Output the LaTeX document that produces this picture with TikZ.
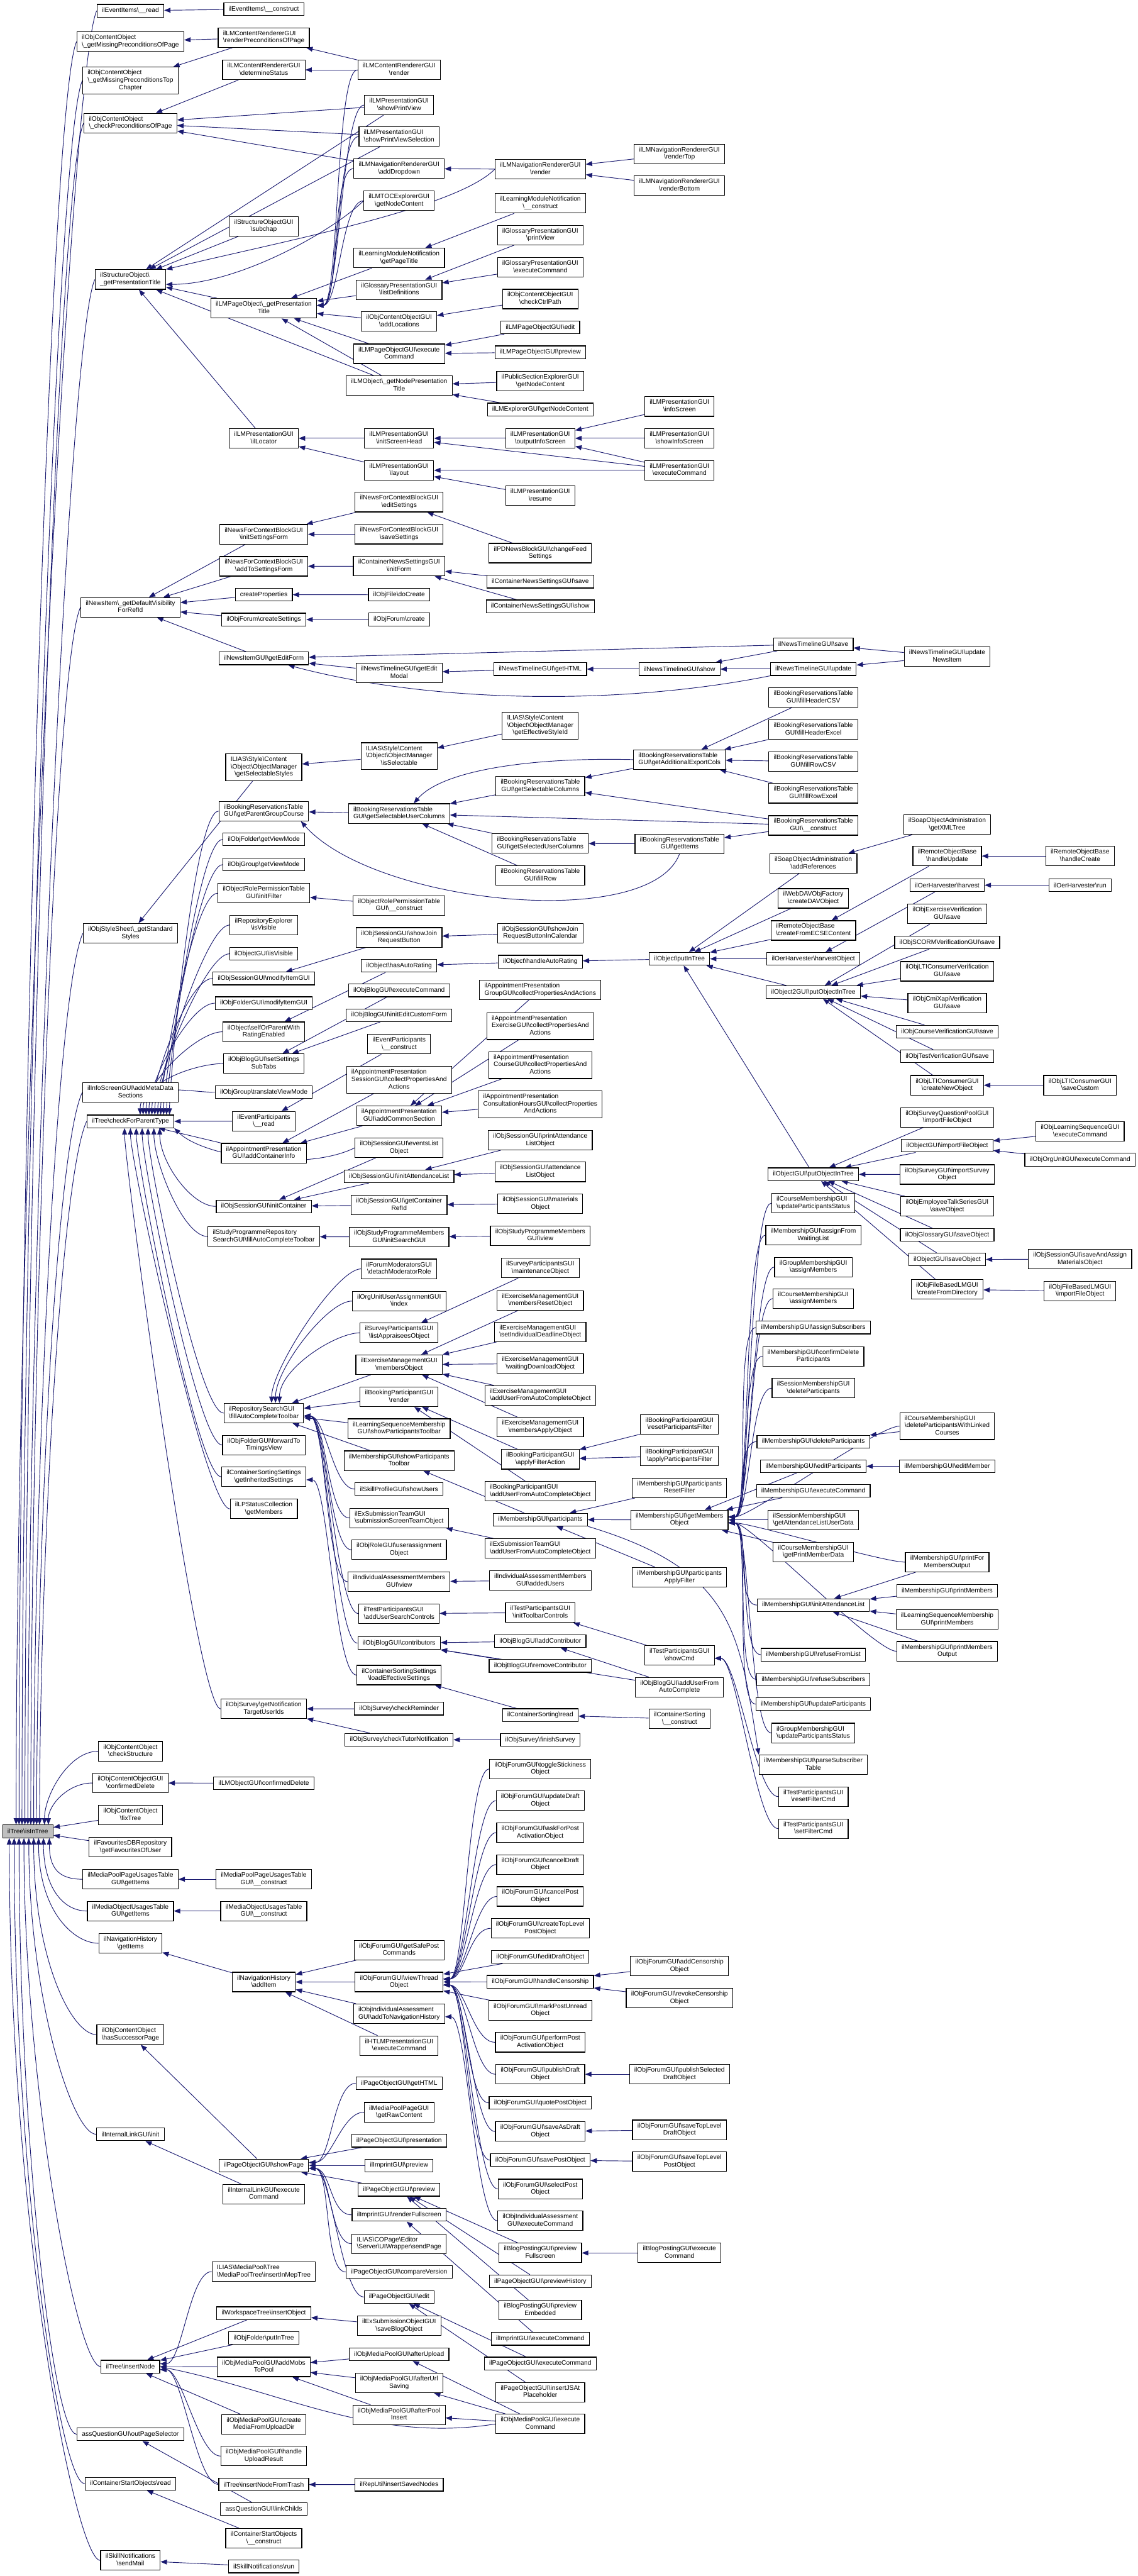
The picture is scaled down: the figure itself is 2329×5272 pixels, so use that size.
\documentclass[tikz,border=0pt]{standalone}
\usepackage{fontspec}
\setmainfont{Liberation Sans}
\usetikzlibrary{arrows.meta}
\definecolor{edgeblue}{HTML}{191970}
\definecolor{rootgray}{HTML}{BFBFBF}
\newcommand\bsl{\textbackslash}
\newcommand\twol[2]{\begin{tabular}{@{}l@{}}#1\\\multicolumn{1}{@{}c@{}}{#2}\end{tabular}}
\newcommand\threel[3]{\begin{tabular}{@{}l@{}}#1\\#2\\\multicolumn{1}{@{}c@{}}{#3}\end{tabular}}
\newcommand\NN[4]{\node[box] (#1) at (#2,#3) {#4};}
\newcommand\EE[2]{\draw[edg] (#1) -- (#2);}
\newcommand\EA[2]{\draw[edg] (#1.west) .. controls +(-45,0) and +(45,0) .. ([yshift=3pt]#2.east);}
\newcommand\EB[2]{\draw[edg] (#1.west) .. controls +(-45,0) and +(45,0) .. ([yshift=-3pt]#2.east);}
\newcommand\CT[3]{\draw[edg] (#1.west) .. controls +(-50,0) and +(0,-70) .. ([xshift=#3pt]#2.north);}
\newcommand\CD[3]{\draw[edg] (#1.west) .. controls +(-50,0) and +(0,70) .. ([xshift=#3pt]#2.south);}
\newcommand\UPE[3]{\draw[edg] (#1.west) .. controls +(-55,120) and +(0,-#3) .. ([xshift=#2pt]isin.north);}
\newcommand\DNE[3]{\draw[edg] (#1.west) .. controls +(-50,0) and +(0,#3) .. ([xshift=#2pt]isin.south);}
\pgfdeclarelayer{bg}
\pgfsetlayers{bg,main}
\begin{document}
\begin{tikzpicture}[x=0.5pt,y=-0.5pt,
 box/.style={draw=black,line width=0.75pt,fill=white,inner xsep=5pt,inner ysep=2.5pt,minimum height=13pt,font=\fontsize{6.6}{7.5}\selectfont},
 edg/.style={draw=edgeblue,line width=0.6pt,-{Triangle[length=6.5pt,width=5pt]}}]
\useasboundingbox (0,0) rectangle (2329,5272);
% ---------- column 0
\node[box,fill=rootgray] (isin) at (57,3748) {ilTree\bsl isInTree};
% ---------- column 1
\NN{a1}{267}{22}{ilEventItems\bsl\_\_read}
\NN{a2}{267}{85}{\twol{ilObjContentObject}{\bsl\_getMissingPreconditionsOfPage}}
\NN{a3}{267}{165}{\threel{ilObjContentObject}{\bsl\_getMissingPreconditionsTop}{Chapter}}
\NN{a4}{267}{252}{\twol{ilObjContentObject}{\bsl\_checkPreconditionsOfPage}}
\NN{a5}{267}{572}{\twol{ilStructureObject\bsl}{\_getPresentationTitle}}
\NN{a6}{267}{1243}{\twol{ilNewsItem\bsl\_getDefaultVisibility}{ForRefId}}
\NN{a7}{267}{1910}{\twol{ilObjStyleSheet\bsl\_getStandard}{Styles}}
\NN{a8}{267}{2236}{\twol{ilInfoScreenGUI\bsl addMetaData}{Sections}}
\NN{a9}{267}{2295}{ilTree\bsl checkForParentType}
\NN{a10}{267}{3584}{\twol{ilObjContentObject}{\bsl checkStructure}}
\NN{a11}{267}{3649}{\twol{ilObjContentObjectGUI}{\bsl confirmedDelete}}
\NN{a12}{267}{3715}{\twol{ilObjContentObject}{\bsl fixTree}}
\NN{a13}{267}{3780}{\twol{ilFavouritesDBRepository}{\bsl getFavouritesOfUser}}
\NN{a14}{267}{3846}{\twol{ilMediaPoolPageUsagesTable}{GUI\bsl getItems}}
\NN{a15}{267}{3911}{\twol{ilMediaObjectUsagesTable}{GUI\bsl getItems}}
\NN{a16}{267}{3977}{\twol{ilNavigationHistory}{\bsl getItems}}
\NN{a17}{267}{4164}{\twol{ilObjContentObject}{\bsl hasSuccessorPage}}
\NN{a18}{267}{4368}{ilInternalLinkGUI\bsl init}
\NN{a19}{267}{4843.5}{ilTree\bsl insertNode}
\NN{a20}{267}{4982}{assQuestionGUI\bsl outPageSelector}
\NN{a21}{267}{5083}{ilContainerStartObjects\bsl read}
\NN{a22}{267}{5240}{\twol{ilSkillNotifications}{\bsl sendMail}}
% ---------- column 2
\NN{b1}{540}{18.5}{ilEventItems\bsl\_\_construct}
\NN{b2}{540}{77}{\twol{ilLMContentRendererGUI}{\bsl renderPreconditionsOfPage}}
\NN{b3}{540}{143}{\twol{ilLMContentRendererGUI}{\bsl determineStatus}}
\NN{b4}{540}{463}{\twol{ilStructureObjectGUI}{\bsl subchap}}
\NN{b5}{540}{631}{\twol{ilLMPageObject\bsl\_getPresentation}{Title}}
\NN{b6}{540}{897}{\twol{ilLMPresentationGUI}{\bsl ilLocator}}
\NN{b7}{540}{1093.5}{\twol{ilNewsForContextBlockGUI}{\bsl initSettingsForm}}
\NN{b8}{540}{1159}{\twol{ilNewsForContextBlockGUI}{\bsl addToSettingsForm}}
\NN{b9}{540}{1217}{createProperties}
\NN{b10}{540}{1268}{ilObjForum\bsl createSettings}
\NN{b11}{540}{1347.5}{ilNewsItemGUI\bsl getEditForm}
\NN{b12}{540}{1570}{\threel{ILIAS\bsl Style\bsl Content}{\bsl Object\bsl ObjectManager}{\bsl getSelectableStyles}}
\NN{b13}{540}{1660}{\twol{ilBookingReservationsTable}{GUI\bsl getParentGroupCourse}}
\NN{b14}{540}{1718}{ilObjFolder\bsl getViewMode}
\NN{b15}{540}{1769.5}{ilObjGroup\bsl getViewMode}
\NN{b16}{540}{1828}{\twol{ilObjectRolePermissionTable}{GUI\bsl initFilter}}
\NN{b17}{540}{1893}{\twol{ilRepositoryExplorer}{\bsl isVisible}}
\NN{b18}{540}{1952}{ilObjectGUI\bsl isVisible}
\NN{b19}{540}{2002.5}{ilObjSessionGUI\bsl modifyItemGUI}
\NN{b20}{540}{2053}{ilObjFolderGUI\bsl modifyItemGUI}
\NN{b21}{540}{2111.6}{\twol{ilObject\bsl selfOrParentWith}{RatingEnabled}}
\NN{b22}{540}{2176.7}{\twol{ilObjBlogGUI\bsl setSettings}{SubTabs}}
\NN{b23}{540}{2235.4}{ilObjGroup\bsl translateViewMode}
\NN{b24}{540}{2294.6}{\twol{ilEventParticipants}{\bsl\_\_read}}
\NN{b25}{540}{2360}{\twol{ilAppointmentPresentation}{GUI\bsl addContainerInfo}}
\NN{b26}{540}{2469}{ilObjSessionGUI\bsl initContainer}
\NN{b27}{540}{2530.6}{\twol{ilStudyProgrammeRepository}{SearchGUI\bsl fillAutoCompleteToolbar}}
\NN{b28}{540}{2892}{\twol{ilRepositorySearchGUI}{\bsl fillAutoCompleteToolbar}}
\NN{b29}{540}{2957.4}{\twol{ilObjFolderGUI\bsl forwardTo}{TimingsView}}
\NN{b30}{540}{3022.5}{\twol{ilContainerSortingSettings}{\bsl getInheritedSettings}}
\NN{b31}{540}{3088}{\twol{ilLPStatusCollection}{\bsl getMembers}}
\NN{b32}{540}{3497.3}{\twol{ilObjSurvey\bsl getNotification}{TargetUserIds}}
\NN{b33}{540}{3649.4}{ilLMObjectGUI\bsl confirmedDelete}
\NN{b34}{540}{3846}{\twol{ilMediaPoolPageUsagesTable}{GUI\bsl\_\_construct}}
\NN{b35}{540}{3911}{\twol{ilMediaObjectUsagesTable}{GUI\bsl\_\_construct}}
\NN{b36}{540}{4056.3}{\twol{ilNavigationHistory}{\bsl addItem}}
\NN{b37}{540}{4431.7}{ilPageObjectGUI\bsl showPage}
\NN{b38}{540}{4490.4}{\twol{ilInternalLinkGUI\bsl execute}{Command}}
\NN{b39}{540}{4649}{\twol{ILIAS\bsl MediaPool\bsl Tree}{\bsl MediaPoolTree\bsl insertInMepTree}}
\NN{b40}{540}{4734}{ilWorkspaceTree\bsl insertObject}
\NN{b41}{540}{4785}{ilObjFolder\bsl putInTree}
\NN{b42}{540}{4844}{\twol{ilObjMediaPoolGUI\bsl addMobs}{ToPool}}
\NN{b43}{540}{4961.4}{\twol{ilObjMediaPoolGUI\bsl create}{MediaFromUploadDir}}
\NN{b44}{540}{5026.5}{\twol{ilObjMediaPoolGUI\bsl handle}{UploadResult}}
\NN{b45}{540}{5084.6}{ilTree\bsl insertNodeFromTrash}
\NN{b46}{540}{5135}{assQuestionGUI\bsl linkChilds}
\NN{b47}{540}{5194.7}{\twol{ilContainerStartObjects}{\bsl\_\_construct}}
\NN{b48}{540}{5252.5}{ilSkillNotifications\bsl run}
% ---------- column 3
\NN{c1}{817}{143}{\twol{ilLMContentRendererGUI}{\bsl render}}
\NN{c2}{817}{215}{\twol{ilLMPresentationGUI}{\bsl showPrintView}}
\NN{c3}{817}{279.5}{\twol{ilLMPresentationGUI}{\bsl showPrintViewSelection}}
\NN{c4}{817}{345}{\twol{ilLMNavigationRendererGUI}{\bsl addDropdown}}
\NN{c5}{817}{411}{\twol{ilLMTOCExplorerGUI}{\bsl getNodeContent}}
\NN{c6}{817}{528}{\twol{ilLearningModuleNotification}{\bsl getPageTitle}}
\NN{c7}{817}{593}{\twol{ilGlossaryPresentationGUI}{\bsl listDefinitions}}
\NN{c8}{817}{658}{\twol{ilObjContentObjectGUI}{\bsl addLocations}}
\NN{c9}{817}{724}{\twol{ilLMPageObjectGUI\bsl execute}{Command}}
\NN{c10}{817}{789}{\twol{ilLMObject\bsl\_getNodePresentation}{Title}}
\NN{c11}{817}{897}{\twol{ilLMPresentationGUI}{\bsl initScreenHead}}
\NN{c12}{817}{962.5}{\twol{ilLMPresentationGUI}{\bsl layout}}
\NN{c13}{817}{1027.6}{\twol{ilNewsForContextBlockGUI}{\bsl editSettings}}
\NN{c14}{817}{1093.3}{\twol{ilNewsForContextBlockGUI}{\bsl saveSettings}}
\NN{c15}{817}{1158.7}{\twol{ilContainerNewsSettingsGUI}{\bsl initForm}}
\NN{c16}{817}{1217.3}{ilObjFile\bsl doCreate}
\NN{c17}{817}{1267.8}{ilObjForum\bsl create}
\NN{c18}{817}{1377}{\twol{ilNewsTimelineGUI\bsl getEdit}{Modal}}
\NN{c19}{817}{1547.6}{\threel{ILIAS\bsl Style\bsl Content}{\bsl Object\bsl ObjectManager}{\bsl isSelectable}}
\NN{c20}{817}{1665}{\twol{ilBookingReservationsTable}{GUI\bsl getSelectableUserColumns}}
\NN{c21}{817}{1853}{\twol{ilObjectRolePermissionTable}{GUI\bsl\_\_construct}}
\NN{c22}{817}{1918.5}{\twol{ilObjSessionGUI\bsl showJoin}{RequestButton}}
\NN{c23}{817}{1976.6}{ilObject\bsl hasAutoRating}
\NN{c24}{817}{2027.1}{ilObjBlogGUI\bsl executeCommand}
\NN{c25}{817}{2077.7}{ilObjBlogGUI\bsl initEditCustomForm}
\NN{c26}{817}{2136.9}{\twol{ilEventParticipants}{\bsl\_\_construct}}
\NN{c27}{817}{2210}{\threel{ilAppointmentPresentation}{SessionGUI\bsl collectPropertiesAnd}{Actions}}
\NN{c28}{817}{2283.6}{\twol{ilAppointmentPresentation}{GUI\bsl addCommonSection}}
\NN{c29}{817}{2349}{\twol{ilObjSessionGUI\bsl eventsList}{Object}}
\NN{c30}{817}{2407.4}{ilObjSessionGUI\bsl initAttendanceList}
\NN{c31}{817}{2466}{\twol{ilObjSessionGUI\bsl getContainer}{RefId}}
\NN{c32}{817}{2531.7}{\twol{ilObjStudyProgrammeMembers}{GUI\bsl initSearchGUI}}
\NN{c33}{817}{2596.8}{\twol{ilForumModeratorsGUI}{\bsl detachModeratorRole}}
\NN{c34}{817}{2662.7}{\twol{ilOrgUnitUserAssignmentGUI}{\bsl index}}
\NN{c35}{817}{2727.8}{\twol{ilSurveyParticipantsGUI}{\bsl listAppraiseesObject}}
\NN{c36}{817}{2792.9}{\twol{ilExerciseManagementGUI}{\bsl membersObject}}
\NN{c37}{817}{2858.6}{\twol{ilBookingParticipantGUI}{\bsl render}}
\NN{c38}{817}{2923.7}{\twol{ilLearningSequenceMembership}{GUI\bsl showParticipantsToolbar}}
\NN{c39}{817}{2989.4}{\twol{ilMembershipGUI\bsl showParticipants}{Toolbar}}
\NN{c40}{817}{3047.5}{ilSkillProfileGUI\bsl showUsers}
\NN{c41}{817}{3106.7}{\twol{ilExSubmissionTeamGUI}{\bsl submissionScreenTeamObject}}
\NN{c42}{817}{3171.8}{\twol{ilObjRoleGUI\bsl userassignment}{Object}}
\NN{c43}{817}{3237.2}{\twol{ilIndividualAssessmentMembers}{GUI\bsl view}}
\NN{c44}{817}{3302.5}{\twol{ilTestParticipantsGUI}{\bsl addUserSearchControls}}
\NN{c45}{817}{3362.9}{ilObjBlogGUI\bsl contributors}
\NN{c46}{817}{3428.2}{\twol{ilContainerSortingSettings}{\bsl loadEffectiveSettings}}
\NN{c47}{817}{3497}{ilObjSurvey\bsl checkReminder}
\NN{c48}{817}{3560.4}{ilObjSurvey\bsl checkTutorNotification}
\NN{c49}{817}{3990.9}{\twol{ilObjForumGUI\bsl getSafePost}{Commands}}
\NN{c50}{817}{4056.3}{\twol{ilObjForumGUI\bsl viewThread}{Object}}
\NN{c51}{817}{4121.4}{\twol{ilObjIndividualAssessment}{GUI\bsl addToNavigationHistory}}
\NN{c52}{817}{4186.7}{\twol{ilHTLMPresentationGUI}{\bsl executeCommand}}
\NN{c53}{817}{4263.6}{ilPageObjectGUI\bsl getHTML}
\NN{c54}{817}{4322.8}{\twol{ilMediaPoolPageGUI}{\bsl getRawContent}}
\NN{c55}{817}{4381.2}{ilPageObjectGUI\bsl presentation}
\NN{c56}{817}{4431.7}{ilImprintGUI\bsl preview}
\NN{c57}{817}{4481.5}{ilPageObjectGUI\bsl preview}
\NN{c58}{817}{4532.9}{ilImprintGUI\bsl renderFullscreen}
\NN{c59}{817}{4591.9}{\twol{ILIAS\bsl COPage\bsl Editor}{\bsl Server\bsl UIWrapper\bsl sendPage}}
\NN{c60}{817}{4649.7}{ilPageObjectGUI\bsl compareVersion}
\NN{c61}{817}{4700.9}{ilPageObjectGUI\bsl edit}
\NN{c62}{817}{4759.8}{\twol{ilExSubmissionObjectGUI}{\bsl saveBlogObject}}
\NN{c63}{817}{4818.2}{ilObjMediaPoolGUI\bsl afterUpload}
\NN{c64}{817}{4876.9}{\twol{ilObjMediaPoolGUI\bsl afterUrl}{Saving}}
\NN{c65}{817}{4942.2}{\twol{ilObjMediaPoolGUI\bsl afterPool}{Insert}}
\NN{c66}{817}{5085.1}{ilRepUtil\bsl insertSavedNodes}
% ---------- column 4
\NN{d1}{1106}{346.5}{\twol{ilLMNavigationRendererGUI}{\bsl render}}
\NN{d2}{1106}{416}{\twol{ilLearningModuleNotification}{\bsl\_\_construct}}
\NN{d3}{1106}{481}{\twol{ilGlossaryPresentationGUI}{\bsl printView}}
\NN{d4}{1106}{547}{\twol{ilGlossaryPresentationGUI}{\bsl executeCommand}}
\NN{d5}{1106}{612}{\twol{ilObjContentObjectGUI}{\bsl checkCtrlPath}}
\NN{d6}{1106}{670}{ilLMPageObjectGUI\bsl edit}
\NN{d7}{1106}{721}{ilLMPageObjectGUI\bsl preview}
\NN{d8}{1106}{780}{\twol{ilPublicSectionExplorerGUI}{\bsl getNodeContent}}
\NN{d9}{1106}{838}{ilLMExplorerGUI\bsl getNodeContent}
\NN{d10}{1106}{897}{\twol{ilLMPresentationGUI}{\bsl outputInfoScreen}}
\NN{d11}{1106}{1014.7}{\twol{ilLMPresentationGUI}{\bsl resume}}
\NN{d12}{1106}{1132}{\twol{ilPDNewsBlockGUI\bsl changeFeed}{Settings}}
\NN{d13}{1106}{1190.4}{ilContainerNewsSettingsGUI\bsl save}
\NN{d14}{1106}{1240.9}{ilContainerNewsSettingsGUI\bsl show}
\NN{d15}{1106}{1369.4}{ilNewsTimelineGUI\bsl getHTML}
\NN{d16}{1106}{1485.3}{\threel{ILIAS\bsl Style\bsl Content}{\bsl Object\bsl ObjectManager}{\bsl getEffectiveStyleId}}
\NN{d17}{1106}{1608.8}{\twol{ilBookingReservationsTable}{GUI\bsl getSelectableColumns}}
\NN{d18}{1106}{1726}{\twol{ilBookingReservationsTable}{GUI\bsl getSelectedUserColumns}}
\NN{d19}{1106}{1792}{\twol{ilBookingReservationsTable}{GUI\bsl fillRow}}
\NN{d20}{1106}{1909.6}{\twol{ilObjSessionGUI\bsl showJoin}{RequestButtonInCalendar}}
\NN{d21}{1106}{1968.2}{ilObject\bsl handleAutoRating}
\NN{d22}{1106}{2025.7}{\twol{ilAppointmentPresentation}{GroupGUI\bsl collectPropertiesAndActions}}
\NN{d23}{1106}{2100.1}{\threel{ilAppointmentPresentation}{ExerciseGUI\bsl collectPropertiesAnd}{Actions}}
\NN{d24}{1106}{2179.8}{\threel{ilAppointmentPresentation}{CourseGUI\bsl collectPropertiesAnd}{Actions}}
\NN{d25}{1106}{2259.8}{\threel{ilAppointmentPresentation}{ConsultationHoursGUI\bsl collectProperties}{AndActions}}
\NN{d26}{1106}{2333.3}{\twol{ilObjSessionGUI\bsl printAttendance}{ListObject}}
\NN{d27}{1106}{2398.4}{\twol{ilObjSessionGUI\bsl attendance}{ListObject}}
\NN{d28}{1106}{2463.8}{\twol{ilObjSessionGUI\bsl materials}{Object}}
\NN{d29}{1106}{2528.9}{\twol{ilObjStudyProgrammeMembers}{GUI\bsl view}}
\NN{d30}{1106}{2595.1}{\twol{ilSurveyParticipantsGUI}{\bsl maintenanceObject}}
\NN{d31}{1106}{2661.3}{\twol{ilExerciseManagementGUI}{\bsl membersResetObject}}
\NN{d32}{1106}{2725.6}{\twol{ilExerciseManagementGUI}{\bsl setIndividualDeadlineObject}}
\NN{d33}{1106}{2790.7}{\twol{ilExerciseManagementGUI}{\bsl waitingDownloadObject}}
\NN{d34}{1106}{2855.8}{\twol{ilExerciseManagementGUI}{\bsl addUserFromAutoCompleteObject}}
\NN{d35}{1106}{2920.9}{\twol{ilExerciseManagementGUI}{\bsl membersApplyObject}}
\NN{d36}{1106}{2986.6}{\twol{ilBookingParticipantGUI}{\bsl applyFilterAction}}
\NN{d37}{1106}{3051.7}{\twol{ilBookingParticipantGUI}{\bsl addUserFromAutoCompleteObject}}
\NN{d38}{1106}{3110}{ilMembershipGUI\bsl participants}
\NN{d39}{1106}{3169}{\twol{ilExSubmissionTeamGUI}{\bsl addUserFromAutoCompleteObject}}
\NN{d40}{1106}{3234.6}{\twol{ilIndividualAssessmentMembers}{GUI\bsl addedUsers}}
\NN{d41}{1106}{3300.3}{\twol{ilTestParticipantsGUI}{\bsl initToolbarControls}}
\NN{d42}{1106}{3358.9}{ilObjBlogGUI\bsl addContributor}
\NN{d43}{1106}{3409.4}{ilObjBlogGUI\bsl removeContributor}
\NN{d44}{1106}{3510}{ilContainerSorting\bsl read}
\NN{d45}{1106}{3560.7}{ilObjSurvey\bsl finishSurvey}
\NN{d46}{1106}{3620.2}{\twol{ilObjForumGUI\bsl toggleStickiness}{Object}}
\NN{d47}{1106}{3685.3}{\twol{ilObjForumGUI\bsl updateDraft}{Object}}
\NN{d48}{1106}{3750.4}{\twol{ilObjForumGUI\bsl askForPost}{ActivationObject}}
\NN{d49}{1106}{3815.8}{\twol{ilObjForumGUI\bsl cancelDraft}{Object}}
\NN{d50}{1106}{3881.2}{\twol{ilObjForumGUI\bsl cancelPost}{Object}}
\NN{d51}{1106}{3946.5}{\twol{ilObjForumGUI\bsl createTopLevel}{PostObject}}
\NN{d52}{1106}{4004.9}{ilObjForumGUI\bsl editDraftObject}
\NN{d53}{1106}{4055.7}{ilObjForumGUI\bsl handleCensorship}
\NN{d54}{1106}{4114.3}{\twol{ilObjForumGUI\bsl markPostUnread}{Object}}
\NN{d55}{1106}{4179.7}{\twol{ilObjForumGUI\bsl performPost}{ActivationObject}}
\NN{d56}{1106}{4245.1}{\twol{ilObjForumGUI\bsl publishDraft}{Object}}
\NN{d57}{1106}{4303.7}{ilObjForumGUI\bsl quotePostObject}
\NN{d58}{1106}{4362.4}{\twol{ilObjForumGUI\bsl saveAsDraft}{Object}}
\NN{d59}{1106}{4420.9}{ilObjForumGUI\bsl savePostObject}
\NN{d60}{1106}{4479.8}{\twol{ilObjForumGUI\bsl selectPost}{Object}}
\NN{d61}{1106}{4545.1}{\twol{ilObjIndividualAssessment}{GUI\bsl executeCommand}}
\NN{d62}{1106}{4610.8}{\twol{ilBlogPostingGUI\bsl preview}{Fullscreen}}
\NN{d63}{1106}{4668.9}{ilPageObjectGUI\bsl previewHistory}
\NN{d64}{1106}{4727.8}{\twol{ilBlogPostingGUI\bsl preview}{Embedded}}
\NN{d65}{1106}{4786.5}{ilImprintGUI\bsl executeCommand}
\NN{d66}{1106}{4837.1}{ilPageObjectGUI\bsl executeCommand}
\NN{d67}{1106}{4895.8}{\twol{ilPageObjectGUI\bsl insertJSAt}{Placeholder}}
\NN{d68}{1106}{4960.8}{\twol{ilObjMediaPoolGUI\bsl execute}{Command}}
% ---------- column 5
\NN{e1}{1391}{315}{\twol{ilLMNavigationRendererGUI}{\bsl renderTop}}
\NN{e2}{1391}{380}{\twol{ilLMNavigationRendererGUI}{\bsl renderBottom}}
\NN{e3}{1391}{832}{\twol{ilLMPresentationGUI}{\bsl infoScreen}}
\NN{e4}{1391}{897}{\twol{ilLMPresentationGUI}{\bsl showInfoScreen}}
\NN{e5}{1391}{962.5}{\twol{ilLMPresentationGUI}{\bsl executeCommand}}
\NN{e6}{1391}{1369.4}{ilNewsTimelineGUI\bsl show}
\NN{e7}{1391}{1554.6}{\twol{ilBookingReservationsTable}{GUI\bsl getAdditionalExportCols}}
\NN{e8}{1391}{1726.9}{\twol{ilBookingReservationsTable}{GUI\bsl getItems}}
\NN{e9}{1391}{1962.3}{ilObject\bsl putInTree}
\NN{e11}{1391}{2915}{\twol{ilBookingParticipantGUI}{\bsl resetParticipantsFilter}}
\NN{e12}{1391}{2979.8}{\twol{ilBookingParticipantGUI}{\bsl applyParticipantsFilter}}
\NN{e13}{1391}{3045}{\twol{ilMembershipGUI\bsl participants}{ResetFilter}}
\NN{e14}{1391}{3110.6}{\twol{ilMembershipGUI\bsl getMembers}{Object}}
\NN{e15}{1391}{3227.9}{\twol{ilMembershipGUI\bsl participants}{ApplyFilter}}
\NN{e16}{1391}{3387.8}{\twol{ilTestParticipantsGUI}{\bsl showCmd}}
\NN{e17}{1391}{3452.9}{\twol{ilObjBlogGUI\bsl addUserFrom}{AutoComplete}}
\NN{e18}{1391}{3518}{\twol{ilContainerSorting}{\bsl\_\_construct}}
\NN{e19}{1391}{4023.7}{\twol{ilObjForumGUI\bsl addCensorship}{Object}}
\NN{e20}{1391}{4089.1}{\twol{ilObjForumGUI\bsl revokeCensorship}{Object}}
\NN{e21}{1391}{4245.1}{\twol{ilObjForumGUI\bsl publishSelected}{DraftObject}}
\NN{e22}{1391}{4358.8}{\twol{ilObjForumGUI\bsl saveTopLevel}{DraftObject}}
\NN{e23}{1391}{4423.6}{\twol{ilObjForumGUI\bsl saveTopLevel}{PostObject}}
\NN{e24}{1391}{4610.8}{\twol{ilBlogPostingGUI\bsl execute}{Command}}
% ---------- column 6
\NN{f1}{1665}{1318.3}{ilNewsTimelineGUI\bsl save}
\NN{f2}{1665}{1369.4}{ilNewsTimelineGUI\bsl update}
\NN{f3}{1665}{1427.8}{\twol{ilBookingReservationsTable}{GUI\bsl fillHeaderCSV}}
\NN{f4}{1665}{1492.9}{\twol{ilBookingReservationsTable}{GUI\bsl fillHeaderExcel}}
\NN{f5}{1665}{1558.5}{\twol{ilBookingReservationsTable}{GUI\bsl fillRowCSV}}
\NN{f6}{1665}{1623.6}{\twol{ilBookingReservationsTable}{GUI\bsl fillRowExcel}}
\NN{f7}{1665}{1689.3}{\twol{ilBookingReservationsTable}{GUI\bsl\_\_construct}}
\NN{f8}{1665}{1767}{\twol{ilSoapObjectAdministration}{\bsl addReferences}}
\NN{f9}{1665}{1838.6}{\twol{ilWebDAVObjFactory}{\bsl createDAVObject}}
\NN{f10}{1665}{1904.2}{\twol{ilRemoteObjectBase}{\bsl createFromECSEContent}}
\NN{f11}{1665}{1962.3}{ilOerHarvester\bsl harvestObject}
\NN{f12}{1665}{2030.5}{ilObject2GUI\bsl putObjectInTree}
\NN{opot}{1665}{2403.2}{ilObjectGUI\bsl putObjectInTree}
\NN{f13}{1665}{2462.4}{\twol{ilCourseMembershipGUI}{\bsl updateParticipantsStatus}}
\NN{f14}{1665}{2527.8}{\twol{ilMembershipGUI\bsl assignFrom}{WaitingList}}
\NN{f15}{1665}{2593.1}{\twol{ilGroupMembershipGUI}{\bsl assignMembers}}
\NN{f16}{1665}{2657.6}{\twol{ilCourseMembershipGUI}{\bsl assignMembers}}
\NN{f17}{1665}{2716.9}{ilMembershipGUI\bsl assignSubscribers}
\NN{f18}{1665}{2775.8}{\twol{ilMembershipGUI\bsl confirmDelete}{Participants}}
\NN{f19}{1665}{2840.9}{\twol{ilSessionMembershipGUI}{\bsl deleteParticipants}}
\NN{f20}{1665}{2950.4}{ilMembershipGUI\bsl deleteParticipants}
\NN{f21}{1665}{3000.9}{ilMembershipGUI\bsl editParticipants}
\NN{f22}{1665}{3051.4}{ilMembershipGUI\bsl executeCommand}
\NN{f23}{1665}{3110.6}{\twol{ilSessionMembershipGUI}{\bsl getAttendanceListUserData}}
\NN{f24}{1665}{3176.3}{\twol{ilCourseMembershipGUI}{\bsl getPrintMemberData}}
\NN{f25}{1665}{3284.9}{ilMembershipGUI\bsl initAttendanceList}
\NN{f26}{1665}{3386.4}{ilMembershipGUI\bsl refuseFromList}
\NN{f27}{1665}{3437}{ilMembershipGUI\bsl refuseSubscribers}
\NN{f28}{1665}{3487.5}{ilMembershipGUI\bsl updateParticipants}
\NN{f29}{1665}{3546.7}{\twol{ilGroupMembershipGUI}{\bsl updateParticipantsStatus}}
\NN{f30}{1665}{3611.8}{\twol{ilMembershipGUI\bsl parseSubscriber}{Table}}
\NN{f31}{1665}{3676.9}{\twol{ilTestParticipantsGUI}{\bsl resetFilterCmd}}
\NN{f32}{1665}{3742.5}{\twol{ilTestParticipantsGUI}{\bsl setFilterCmd}}
% ---------- column 7
\NN{g1}{1939}{1343.6}{\twol{ilNewsTimelineGUI\bsl update}{NewsItem}}
\NN{g2}{1939}{1687.6}{\twol{ilSoapObjectAdministration}{\bsl getXMLTree}}
\NN{g3}{1939}{1752}{\twol{ilRemoteObjectBase}{\bsl handleUpdate}}
\NN{g4}{1939}{1811.6}{ilOerHarvester\bsl harvest}
\NN{g5}{1939}{1870.6}{\twol{ilObjExerciseVerification}{GUI\bsl save}}
\NN{g6}{1939}{1928.9}{ilObjSCORMVerificationGUI\bsl save}
\NN{g7}{1939}{1987.9}{\twol{ilObjLTIConsumerVerification}{GUI\bsl save}}
\NN{g8}{1939}{2053}{\twol{ilObjCmiXapiVerification}{GUI\bsl save}}
\NN{g9}{1939}{2111.3}{ilObjCourseVerificationGUI\bsl save}
\NN{g10}{1939}{2161.8}{ilObjTestVerificationGUI\bsl save}
\NN{g11}{1939}{2221}{\twol{ilObjLTIConsumerGUI}{\bsl createNewObject}}
\NN{g12}{1939}{2286.7}{\twol{ilObjSurveyQuestionPoolGUI}{\bsl importFileObject}}
\NN{g13}{1939}{2344.8}{ilObjectGUI\bsl importFileObject}
\NN{g14}{1939}{2403.7}{\twol{ilObjSurveyGUI\bsl importSurvey}{Object}}
\NN{g15}{1939}{2468.8}{\twol{ilObjEmployeeTalkSeriesGUI}{\bsl saveObject}}
\NN{g16}{1939}{2527.2}{ilObjGlossaryGUI\bsl saveObject}
\NN{g17}{1939}{2577.7}{ilObjectGUI\bsl saveObject}
\NN{g18}{1939}{2639}{\twol{ilObjFileBasedLMGUI}{\bsl createFromDirectory}}
\NN{g19}{1939}{2918.7}{\threel{ilCourseMembershipGUI}{\bsl deleteParticipantsWithLinked}{Courses}}
\NN{g20}{1939}{3000.9}{ilMembershipGUI\bsl editMember}
\NN{g21}{1939}{3197}{\twol{ilMembershipGUI\bsl printFor}{MembersOutput}}
\NN{g22}{1939}{3255.7}{ilMembershipGUI\bsl printMembers}
\NN{g23}{1939}{3314.3}{\twol{ilLearningSequenceMembership}{GUI\bsl printMembers}}
\NN{g24}{1939}{3379.4}{\twol{ilMembershipGUI\bsl printMembers}{Output}}
% ---------- column 8
\NN{h1}{2211}{1752}{\twol{ilRemoteObjectBase}{\bsl handleCreate}}
\NN{h2}{2211}{1811.6}{ilOerHarvester\bsl run}
\NN{h3}{2211}{2221}{\twol{ilObjLTIConsumerGUI}{\bsl saveCustom}}
\NN{h4}{2211}{2315.9}{\twol{ilObjLearningSequenceGUI}{\bsl executeCommand}}
\NN{h5}{2211}{2373.4}{ilObjOrgUnitGUI\bsl executeCommand}
\NN{h6}{2211}{2576.9}{\twol{ilObjSessionGUI\bsl saveAndAssign}{MaterialsObject}}
\NN{h7}{2211}{2642}{\twol{ilObjFileBasedLMGUI}{\bsl importFileObject}}
% ================= edges
\begin{pgfonlayer}{bg}
\fill[white] (0,0) rectangle (2329,5272);
% to isInTree
\UPE{a1}{-12}{1400}
\UPE{a2}{-9}{1400}
\UPE{a3}{-6}{1350}
\UPE{a4}{-3}{1300}
\UPE{a5}{0}{1200}
\UPE{a6}{3}{900}
\UPE{a7}{6}{700}
\UPE{a8}{9}{550}
\UPE{a9}{12}{500}
\draw[edg] (a10.west) .. controls +(-60,0) and +(0,-60) .. ([xshift=17pt]isin.north);
\draw[edg] (a11.west) .. controls +(-50,0) and +(0,-40) .. ([xshift=21pt]isin.north);
\EE{a12}{isin}
\EE{a13}{isin}
\DNE{a14}{22}{60}
\DNE{a15}{16}{100}
\DNE{a16}{11}{150}
\DNE{a17}{6}{250}
\DNE{a18}{1}{320}
\DNE{a19}{-4}{500}
\DNE{a20}{-9}{600}
\DNE{a21}{-14}{700}
\DNE{a22}{-19}{800}
% top block
\EE{b1}{a1}
\EE{b2}{a2} \EE{b2}{a3}
\EE{c1}{b2} \EE{c1}{b3}
\EE{b3}{a4}
\EE{c2}{a4} \EE{c3}{a4} \EE{c4}{a4}
\EE{c2}{a5} \EE{c3}{a5} \EE{b4}{a5} \EE{b5}{a5} \EE{c10}{a5} \EE{b6}{a5}
\draw[edg] (d1.west) .. controls +(-80,80) and +(250,-60) .. (a5.north east);
\draw[edg] (c5.west) .. controls +(-60,60) and +(150,0) .. ([yshift=-5pt]a5.east);
\EA{c1}{b5} \EA{c2}{b5} \EA{c3}{b5} \EA{c4}{b5} \EA{c5}{b5}
\EE{c6}{b5} \EE{c7}{b5} \EE{c8}{b5} \EE{c9}{b5} \EE{c10}{b5}
\EE{d1}{c4}
\EE{e1}{d1} \EE{e2}{d1}
\EE{d2}{c6}
\EE{d3}{c7} \EE{d4}{c7}
\EE{d5}{c8}
\EE{d6}{c9} \EE{d7}{c9}
\EE{d8}{c10} \EE{d9}{c10}
\EE{c11}{b6} \EE{c12}{b6}
\EE{d10}{c11}
\EE{e4}{d10} \EE{e3}{d10} \EE{e5}{d10}
\EE{e5}{c11} \EE{e5}{c12}
\EE{d11}{c12}
\EE{c13}{b7} \EE{c14}{b7}
\EE{d12}{c13}
\EE{c15}{b8}
\EE{d13}{c15} \EE{d14}{c15}
\EE{c16}{b9}
\EE{c17}{b10}
\EE{b7}{a6} \EE{b8}{a6} \EE{b9}{a6} \EE{b10}{a6} \EE{b11}{a6}
\EE{c18}{b11} \EE{f1}{b11}
\draw[edg] (f2.south west) .. controls +(-300,60) and +(300,80) .. ([xshift=25pt]b11.south);
\EE{d15}{c18}
\EE{e6}{d15}
\EE{f1}{e6} \EE{f2}{e6}
\EE{g1}{f1} \EE{g1}{f2}
\EE{c19}{b12} \EE{d16}{c19}
\EE{b12}{a7}
\EE{c20}{b13}
\EE{d17}{c20} \EE{d18}{c20} \EE{d19}{c20}
\draw[edg] (e7.west) .. controls +(-200,-5) and +(60,-70) .. ([xshift=15pt]c20.north);
\EE{e7}{d17} \EE{f7}{d17} \EE{f7}{c20} \EE{f7}{e8} \EE{e8}{d18}
\draw[edg] (e8.south) .. controls +(-60,160) and +(150,170) .. ([xshift=38pt]b13.south);
\EE{f3}{e7} \EE{f4}{e7} \EE{f5}{e7} \EE{f6}{e7}
% to checkForParentType
\CT{b13}{a9}{40} \CT{b14}{a9}{37} \CT{b15}{a9}{34} \CT{b16}{a9}{31} \CT{b17}{a9}{28}
\CT{b18}{a9}{25} \CT{b19}{a9}{22} \CT{b20}{a9}{19} \CT{b21}{a9}{16} \CT{b22}{a9}{13} \CT{b23}{a9}{10}
\EE{b24}{a9} \EE{b25}{a9}
\CD{b26}{a9}{30} \CD{b27}{a9}{24} \CD{b28}{a9}{18} \CD{b29}{a9}{12} \CD{b30}{a9}{6} \CD{b31}{a9}{0} \CD{b32}{a9}{-6}
\draw[edg] (c29.west) .. controls +(-100,50) and +(60,60) .. (a9.south east);
\EE{c21}{b16}
\EE{c22}{b19} \EE{d20}{c22}
\EE{c23}{b21} \EE{d21}{c23} \EE{e9}{d21}
\EE{c24}{b22} \EE{c25}{b22}
\EE{c26}{b24}
\EE{c27}{b25} \EE{c28}{b25}
\EE{d22}{c28} \EE{d23}{c28} \EE{d24}{c28} \EE{d25}{c28}
\EE{c29}{b26} \EE{c30}{b26} \EE{c31}{b26}
\EE{d26}{c30} \EE{d27}{c30}
\EE{d28}{c31}
\EE{c32}{b27} \EE{d29}{c32}
% putInTree
\EE{f8}{e9} \EE{f9}{e9} \EE{f10}{e9} \EE{f11}{e9} \EE{f12}{e9} \EE{opot}{e9}
\EE{g2}{f8}
\EE{g3}{f10} \EE{h1}{g3}
\EE{g4}{f11} \EE{h2}{g4}
\EE{g5}{f12} \EE{g6}{f12} \EE{g7}{f12} \EE{g8}{f12} \EE{g9}{f12} \EE{g10}{f12} \EE{g11}{f12}
\EE{h3}{g11}
\EE{g12}{opot} \EE{g13}{opot} \EE{g14}{opot} \EE{g15}{opot} \EE{g16}{opot} \EE{g17}{opot} \EE{g18}{opot}
\EE{h4}{g13} \EE{h5}{g13}
\EE{h6}{g17}
\EE{h7}{g18}
% fillAutoCompleteToolbar
\CT{c33}{b28}{8} \CT{c34}{b28}{12} \CT{c35}{b28}{16}
\EE{c36}{b28} \EE{c37}{b28} \EE{c38}{b28} \EE{c39}{b28}
\EB{c40}{b28} \EB{c41}{b28} \EB{c42}{b28} \EB{c43}{b28} \EB{c44}{b28} \EB{c45}{b28}
\EE{d30}{c35}
\EE{d31}{c36} \EE{d32}{c36} \EE{d33}{c36} \EE{d34}{c36} \EE{d35}{c36}
\EE{d36}{c37} \EE{d37}{c37}
\EE{e11}{d36} \EE{e12}{d36}
\EE{d38}{c39}
\EE{e13}{d38} \EE{e14}{d38} \EE{e15}{d38}
\draw[edg] (d38.south east) .. controls +(300,90) and +(-40,-250) .. (f30.north west);
% getMembersObject
\EA{f13}{e14} \EA{f14}{e14} \EA{f15}{e14} \EA{f16}{e14} \EA{f17}{e14} \EA{f18}{e14} \EA{f19}{e14} \EA{f20}{e14}
\EE{f21}{e14} \EE{f22}{e14} \EE{f23}{e14} \EE{f24}{e14}
\EB{f25}{e14} \EB{f26}{e14} \EB{f27}{e14} \EB{f28}{e14} \EB{f29}{e14}
\EE{g19}{f20} \EA{g19}{e14}
\EE{g20}{f21}
\EE{g21}{f25} \EB{g21}{e14}
\EE{g22}{f25} \EE{g23}{f25} \EE{g24}{f25} \EB{g24}{e14}
\EE{e16}{d41} \EE{d41}{c44}
\EB{f31}{e16} \EB{f32}{e16}
\EE{d39}{c41}
\EE{d40}{c43}
\EE{d42}{c45} \EE{d43}{c45} \EE{e17}{c45} \EE{e17}{d42}
\EB{c46}{b30}
\EE{d44}{c46} \EE{e18}{d44}
\EE{c47}{b32} \EE{c48}{b32} \EE{d45}{c48}
% lower block
\EE{b33}{a11}
\EE{b34}{a14} \EE{b35}{a15}
\EE{b36}{a16}
\EE{c49}{b36} \EE{c50}{b36} \EE{c51}{b36} \EE{c52}{b36}
\EA{d46}{c50} \EA{d47}{c50} \EA{d48}{c50} \EA{d49}{c50} \EA{d50}{c50} \EA{d51}{c50}
\EE{d52}{c50} \EE{d53}{c50} \EE{d54}{c50}
\EB{d55}{c50} \EB{d56}{c50} \EB{d57}{c50} \EB{d58}{c50} \EB{d59}{c50} \EB{d60}{c50}
\EE{e19}{d53} \EE{e20}{d53} \EE{e21}{d56} \EE{e22}{d58} \EE{e23}{d59}
\EB{d61}{c51}
\EE{b37}{a17}
\EA{c53}{b37} \EA{c54}{b37} \EE{c55}{b37} \EE{c56}{b37} \EE{c57}{b37}
\EB{c58}{b37} \EB{c59}{b37} \EB{c60}{b37} \EB{c61}{b37}
\EE{d62}{c57} \EE{d63}{c57} \EE{d64}{c57}
\EE{e24}{d62}
\EE{d65}{c58}
\EE{d66}{c61} \EE{d67}{c61}
\EE{b38}{a18}
\EA{b39}{a19} \EE{b40}{a19} \EE{b41}{a19} \EE{b42}{a19} \EE{b43}{a19} \EB{b44}{a19} \EB{b45}{a19}
\draw[edg] (d68.west) .. controls +(-250,40) and +(250,50) .. (a19.east);
\EE{c62}{b40}
\EE{c63}{b42} \EE{c64}{b42} \EE{c65}{b42}
\EE{d68}{c63} \EE{d68}{c64} \EE{d68}{c65}
\EE{c66}{b45}
\EE{b46}{a20}
\EE{b47}{a21}
\EE{b48}{a22}
\end{pgfonlayer}
\end{tikzpicture}
\end{document}
